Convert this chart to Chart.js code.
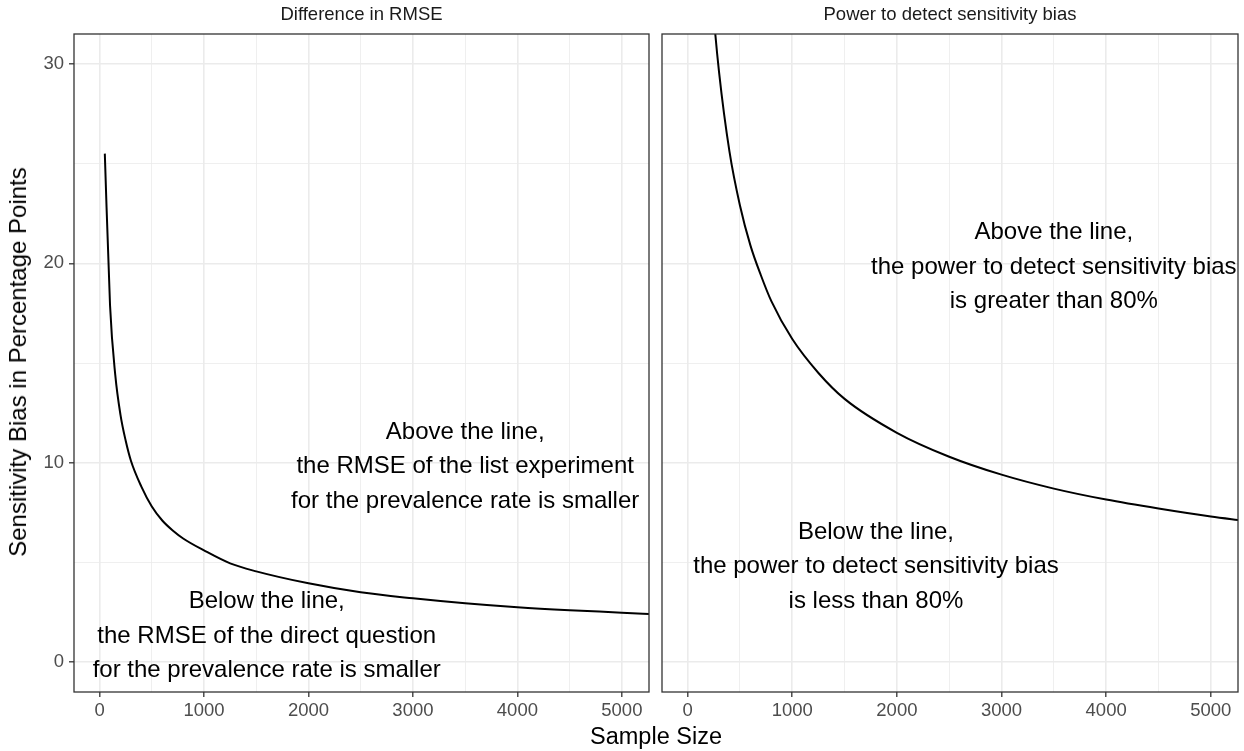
<!DOCTYPE html>
<html>
<head>
<meta charset="utf-8">
<script src="https://cdn.jsdelivr.net/npm/chart.js@4/dist/chart.umd.min.js"></script>
<style>
  body { margin: 0; background: #fff; font-family: "Liberation Sans", Arial, sans-serif; }
  #wrap { position: relative; width: 1244px; height: 751px; overflow: hidden; }
  #left { position: absolute; left: 0; top: 0; }
  #right { position: absolute; left: 655px; top: 0; }
  .ytitle { position: absolute; left: 18px; top: 362px; transform: translate(-50%, -50%) rotate(-90deg);
            font-size: 24px; white-space: nowrap; color: #000; }
  .xtitle { position: absolute; left: 656px; top: 736px; transform: translate(-50%, -50%);
            font-size: 23.5px; white-space: nowrap; color: #000; }
</style>
</head>
<body>
<div id="wrap">
  <canvas id="left" width="655" height="751"></canvas>
  <canvas id="right" width="589" height="751"></canvas>
  <div class="ytitle">Sensitivity Bias in Percentage Points</div>
  <div class="xtitle">Sample Size</div>
</div>
<script>
// panel titles
const panelTitles = ['Difference in RMSE', 'Power to detect sensitivity bias'];

// tick values
const xTicks = [0, 500, 1000, 1500, 2000, 2500, 3000, 3500, 4000, 4500, 5000];
const yTicks = [0, 5, 10, 15, 20, 25, 30];

// left panel: difference in RMSE
const rmseN   = [50, 100, 150, 200, 250, 300, 400, 500, 600, 700, 800, 1000, 1250, 1500, 2000, 2500, 3000, 3500, 4000, 4500, 5000, 5300];
const rmseGap = [25.5, 17.9, 14.4, 12.4, 11.1, 10.1, 8.8, 7.8, 7.1, 6.6, 6.2, 5.6, 4.95, 4.55, 3.95, 3.5, 3.2, 2.95, 2.75, 2.6, 2.48, 2.4];

// right panel: power to detect sensitivity bias
const powerN    = [200, 250, 300, 400, 500, 600, 700, 800, 1000, 1250, 1500, 2000, 2500, 3000, 3500, 4000, 4500, 5000, 5300];
const powerBias = [36.2, 32.4, 29.6, 25.6, 22.9, 20.9, 19.4, 18.1, 16.2, 14.5, 13.2, 11.5, 10.3, 9.4, 8.7, 8.15, 7.7, 7.3, 7.1];

// annotation text
const rmseAbove  = ['Above the line,', 'the RMSE of the list experiment', 'for the prevalence rate is smaller'];
const rmseBelow  = ['Below the line,', 'the RMSE of the direct question', 'for the prevalence rate is smaller'];
const powerAbove = ['Above the line,', 'the power to detect sensitivity bias', 'is greater than 80%'];
const powerBelow = ['Below the line,', 'the power to detect sensitivity bias', 'is less than 80%'];

Chart.defaults.font.family = '"Liberation Sans", Arial, sans-serif';
Chart.defaults.devicePixelRatio = 1;

const panelBox = {
  id: 'panelBox',
  afterDatasetsDraw(chart) {
    const a = chart.chartArea, ctx = chart.ctx;
    const opts = chart.options.plugins.panelBox;
    ctx.save();
    // text notes inside the panel
    ctx.fillStyle = '#000';
    ctx.font = '24px "Liberation Sans", Arial, sans-serif';
    ctx.textAlign = 'center';
    ctx.textBaseline = 'middle';
    opts.notes.forEach(n => {
      const cx = chart.scales.x.getPixelForValue(n.x);
      const cy = chart.scales.y.getPixelForValue(n.y) + 4;
      const gap = 34.5;
      n.lines.forEach((t, i) => {
        ctx.fillText(t, cx, cy + (i - (n.lines.length - 1) / 2) * gap);
      });
    });
    // strip label
    ctx.fillStyle = '#1A1A1A';
    ctx.font = '18.5px "Liberation Sans", Arial, sans-serif';
    ctx.fillText(opts.strip, (a.left + a.right) / 2, 15);
    // panel border
    ctx.strokeStyle = '#333333';
    ctx.lineWidth = 1.3;
    ctx.strokeRect(a.left, a.top, a.right - a.left, a.bottom - a.top);
    ctx.restore();
  }
};

function makeOptions(strip, showY, notes) {
  return {
    responsive: false,
    animation: false,
    layout: { padding: { left: 0, right: 6, top: 34, bottom: 0 } },
    plugins: {
      legend: { display: false },
      tooltip: { enabled: false },
      title: { display: false },
      panelBox: { notes: notes, strip: strip }
    },
    scales: {
      x: {
        type: 'linear', min: -245, max: 5260,
        afterBuildTicks: s => { s.ticks = xTicks.map(v => ({ value: v })); },
        afterFit: s => { s.height = 59; },
        border: { display: false },
        grid: {
          color: '#EBEBEB',
          lineWidth: c => (c.tick && c.tick.value % 1000 === 0) ? 1.6 : 0.8,
          tickLength: 5,
          tickWidth: 1.3,
          tickColor: c => (c.tick && c.tick.value % 1000 === 0) ? '#333333' : 'rgba(0,0,0,0)'
        },
        ticks: {
          autoSkip: false, maxRotation: 0,
          color: '#4D4D4D', font: { size: 18.5 }, padding: 3,
          callback: v => v % 1000 === 0 ? String(v) : ''
        }
      },
      y: {
        type: 'linear', min: -1.5, max: 31.5,
        afterBuildTicks: s => { s.ticks = yTicks.map(v => ({ value: v })); },
        afterFit: s => { s.width = showY ? 74 : 7; },
        border: { display: false },
        grid: {
          color: '#EBEBEB',
          lineWidth: c => (c.tick && c.tick.value % 10 === 0) ? 1.6 : 0.8,
          drawTicks: showY,
          tickLength: 5,
          tickWidth: 1.3,
          tickColor: c => (c.tick && c.tick.value % 10 === 0) ? '#333333' : 'rgba(0,0,0,0)'
        },
        ticks: {
          display: showY, autoSkip: false,
          color: '#4D4D4D', font: { size: 18.5 }, padding: 5,
          callback: v => v % 10 === 0 ? String(v) : ''
        }
      }
    }
  };
}

function lineData(xs, ys) {
  return {
    datasets: [{
      data: xs.map((n, i) => ({ x: n, y: ys[i] })),
      borderColor: '#000',
      borderWidth: 2,
      pointRadius: 0,
      cubicInterpolationMode: 'monotone',
      fill: false
    }]
  };
}

new Chart(document.getElementById('left'), {
  type: 'line',
  data: lineData(rmseN, rmseGap),
  options: makeOptions(panelTitles[0], true, [
    { x: 3500, y: 10, lines: rmseAbove },
    { x: 1600, y: 1.5, lines: rmseBelow }
  ]),
  plugins: [panelBox]
});

new Chart(document.getElementById('right'), {
  type: 'line',
  data: lineData(powerN, powerBias),
  options: makeOptions(panelTitles[1], false, [
    { x: 3500, y: 20, lines: powerAbove },
    { x: 1800, y: 5, lines: powerBelow }
  ]),
  plugins: [panelBox]
});
</script>
</body>
</html>
